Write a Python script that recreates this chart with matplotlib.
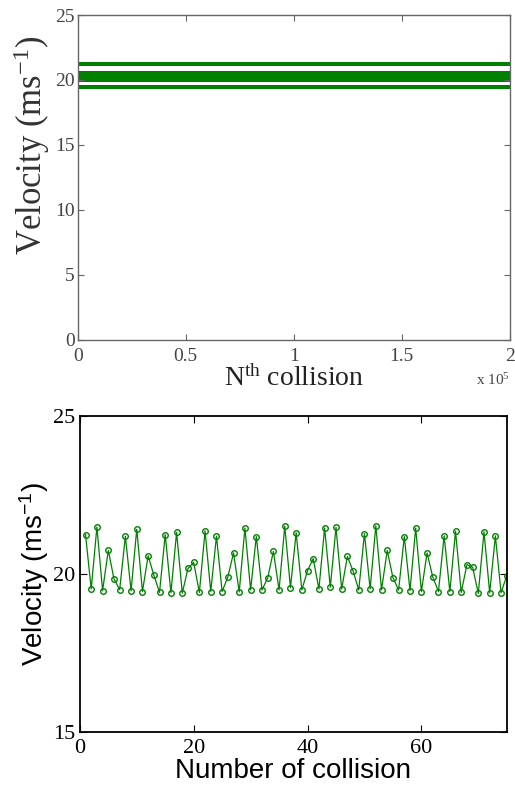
import matplotlib.pyplot as plt

plt.rcParams['mathtext.default'] = 'regular'

# top panel: dense run drawn as green bands (units of 1e5 collisions)
top_xrange = [0, 2]
band_low = [19.3, 19.85, 21.1]
band_high = [19.6, 20.7, 21.4]

# bottom panel: first 75 collisions
collision = list(range(1, 76))
velocity = [21.24, 19.52, 21.48, 19.47, 20.74, 19.84, 19.50, 21.19, 19.46, 21.41,
            19.44, 20.57, 19.96, 19.41, 21.24, 19.40, 21.31, 19.39, 20.17, 20.36,
            19.41, 21.36, 19.44, 21.19, 19.44, 19.90, 20.66, 19.43, 21.45, 19.49,
            21.18, 19.49, 19.87, 20.71, 19.49, 21.51, 19.56, 21.30, 19.49, 20.10,
            20.48, 19.52, 21.45, 19.58, 21.47, 19.52, 20.55, 20.09, 19.49, 21.27,
            19.52, 21.52, 19.49, 20.74, 19.88, 19.49, 21.18, 19.47, 21.45, 19.44,
            20.66, 19.90, 19.44, 21.20, 19.44, 21.35, 19.41, 20.29, 20.21, 19.38,
            21.33, 19.40, 21.20, 19.40, 19.94]

green = '#008000'
serif = ['Liberation Serif', 'DejaVu Serif']
sans = ['Liberation Sans', 'DejaVu Sans']

fig = plt.figure(figsize=(5.15, 7.92), dpi=100)

# ---- top panel ----
ax1 = fig.add_axes([0.151, 0.571, 0.839, 0.410])
for lo, hi in zip(band_low, band_high):
    ax1.fill_between(top_xrange, [lo, lo], [hi, hi], color=green, linewidth=0)
ax1.set_xlim(0, 2)
ax1.set_ylim(0, 25)
ax1.set_xticks([0, 0.5, 1, 1.5, 2])
ax1.set_xticklabels(['0', '0.5', '1', '1.5', '2'])
ax1.set_yticks([0, 5, 10, 15, 20, 25])
for s in ax1.spines.values():
    s.set_color('#666666')
    s.set_linewidth(1.0)
ax1.tick_params(direction='in', top=True, right=True, length=4, color='#666666',
                labelcolor='#444444', labelsize=14, pad=2)
ax1.tick_params(axis='x', pad=6)
for lab in ax1.get_xticklabels() + ax1.get_yticklabels():
    lab.set_family(serif)
ax1.set_ylabel('Velocity (ms$^{-1}$)', family=serif, fontsize=25, color='#333333')
ax1.yaxis.set_label_coords(-0.06, 0.6)
ax1.set_xlabel('N$^{th}$ collision', family=serif, fontsize=20, color='#222222', labelpad=0)
ax1.text(1.0, -0.1, 'x 10$^5$', transform=ax1.transAxes, family=serif, fontsize=11,
         color='#444444', ha='right', va='top')

# ---- bottom panel ----
ax2 = fig.add_axes([0.155, 0.076, 0.829, 0.399])
ax2.plot(collision, velocity, '-o', color=green, linewidth=0.9, markersize=4,
         markerfacecolor='none', markeredgewidth=1.0)
ax2.set_xlim(0, 75)
ax2.set_ylim(15, 25)
ax2.set_xticks([0, 20, 40, 60])
ax2.set_yticks([15, 20, 25])
ax2.tick_params(direction='in', top=True, right=True, length=5, labelsize=16)
ax2.tick_params(axis='x', pad=5)
ax2.tick_params(axis='y', pad=3)
for lab in ax2.get_xticklabels() + ax2.get_yticklabels():
    lab.set_family(serif)
for s in ax2.spines.values():
    s.set_linewidth(1.3)
ax2.set_ylabel('Velocity (ms$^{-1}$)', family=sans, fontsize=20, labelpad=2)
ax2.set_xlabel('Number of collision', family=sans, fontsize=20, labelpad=0)

fig.savefig('out.png', dpi=100)
